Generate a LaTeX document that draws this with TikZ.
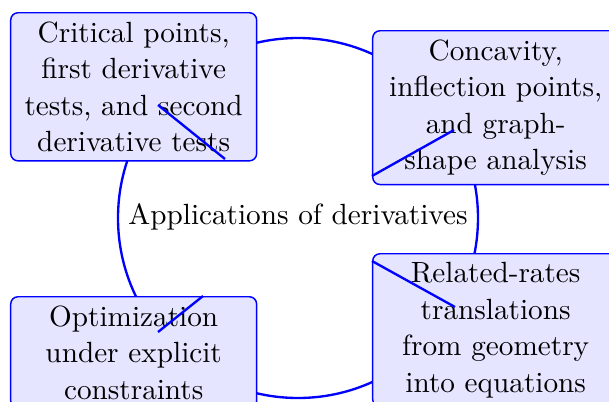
\documentclass[tikz,border=0pt]{standalone}
\begin{document}
\begin{tikzpicture}[x=0.342pt,y=-0.342pt,
  topic/.style={draw=blue, line width=0.5pt, fill=blue!10, rounded corners=2.5pt,
    align=center, text width=77.4pt, inner xsep=3.35pt, inner ysep=3pt,
    anchor=north west, font=\fontsize{10}{12.5}\selectfont},
  ring/.style={draw=blue, line width=0.8pt},
  stray/.style={draw=blue, line width=0.8pt}]
\useasboundingbox (0,0) rectangle (609,402);
\draw[ring] (298,218) circle[radius=180*0.342pt];
\node[font=\fontsize{10}{12}\selectfont] (center) at (298,217) {Applications of derivatives};
\node[topic] (tl) at (10,12) {Critical points,\\ first derivative\\ tests, and second\\ derivative tests};
\node[topic] (tr) at (372,30) {Concavity,\\ inflection points,\\ and graph-\\shape analysis};
\node[topic] (bl) at (10,296) {Optimization\\ under explicit\\ constraints};
\node[topic] (br) at (372,253) {Related-rates\\ translations\\ from geometry\\ into equations};
\coordinate (a1) at (158,105); \coordinate (a2) at (225,159);
\coordinate (b1) at (372,176); \coordinate (b2) at (454,130);
\coordinate (c1) at (158,332); \coordinate (c2) at (203,296);
\coordinate (d1) at (372,261); \coordinate (d2) at (455,307);
\draw[stray] (a1) -- (a2);
\draw[stray] (b1) -- (b2);
\draw[stray] (c1) -- (c2);
\draw[stray] (d1) -- (d2);
\end{tikzpicture}
\end{document}
